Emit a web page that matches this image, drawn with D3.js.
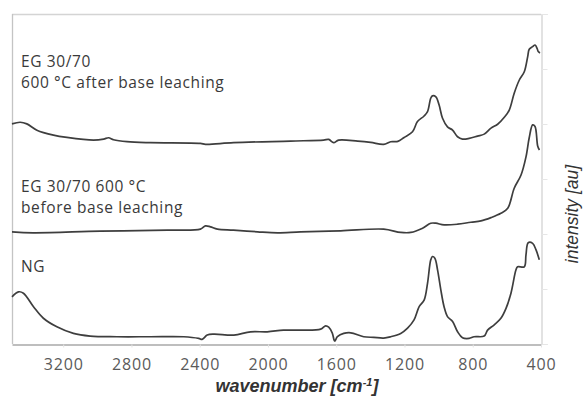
<!DOCTYPE html>
<html>
<head>
<meta charset="utf-8">
<script src="https://cdn.jsdelivr.net/npm/d3@7"></script>
<style>
  html, body { margin: 0; padding: 0; background: #fff; }
  svg { display: block; }
</style>
</head>
<body>
<svg id="chart" width="587" height="398"></svg>
<script>
// FTIR spectra, offset vertically (arbitrary units)
const xTicks = [3200, 2800, 2400, 2000, 1600, 1200, 800, 400];

// EG 30/70, 600 °C, after base leaching
const egAfterWn = [3500, 3452, 3413, 3354, 3257, 3178, 3022, 2963, 2934, 2905, 2826, 2689, 2396, 2366, 2202, 1868, 1674, 1644, 1615, 1586, 1474, 1398, 1322, 1281, 1239, 1202, 1153, 1124, 1085, 1065, 1046, 1036, 1016, 997, 977, 948, 918, 889, 860, 821, 772, 733, 693, 654, 615, 586, 557, 527, 498, 478, 469, 449, 435, 423, 416, 406];
const egAfterI = [6.67, 6.72, 6.67, 6.48, 6.33, 6.26, 6.18, 6.21, 6.25, 6.19, 6.13, 6.10, 6.08, 6.05, 6.10, 6.15, 6.18, 6.20, 6.10, 6.18, 6.15, 6.11, 6.05, 6.13, 6.14, 6.26, 6.43, 6.74, 6.91, 7.04, 7.45, 7.52, 7.49, 7.24, 6.84, 6.58, 6.48, 6.28, 6.21, 6.23, 6.30, 6.36, 6.54, 6.66, 6.87, 7.09, 7.60, 8.00, 8.25, 8.71, 8.93, 9.01, 9.06, 8.96, 8.86, 8.82];

// EG 30/70, 600 °C, before base leaching
const egBeforeWn = [3500, 3376, 2983, 2590, 2396, 2366, 2337, 2296, 2202, 2061, 1944, 1809, 1574, 1322, 1222, 1163, 1094, 1046, 1016, 968, 889, 811, 752, 693, 635, 595, 557, 517, 488, 469, 449, 435, 419, 409];
const egBeforeI = [3.40, 3.37, 3.42, 3.45, 3.48, 3.58, 3.55, 3.48, 3.45, 3.40, 3.37, 3.40, 3.43, 3.48, 3.38, 3.38, 3.51, 3.66, 3.66, 3.61, 3.63, 3.69, 3.73, 3.83, 3.96, 4.11, 4.72, 5.12, 5.67, 6.25, 6.64, 6.59, 5.99, 5.88];

// natural graphite
const ngWn = [3500, 3462, 3433, 3374, 3316, 3237, 3140, 3042, 2885, 2689, 2494, 2406, 2386, 2356, 2318, 2200, 2102, 2004, 1909, 1809, 1691, 1662, 1644, 1623, 1609, 1593, 1556, 1515, 1439, 1380, 1322, 1281, 1222, 1182, 1144, 1114, 1085, 1065, 1046, 1036, 1022, 1006, 987, 968, 948, 918, 889, 860, 821, 792, 733, 713, 674, 635, 605, 576, 547, 537, 498, 488, 475, 449, 429, 410];
const ngI = [1.43, 1.58, 1.54, 1.13, 0.78, 0.52, 0.32, 0.24, 0.22, 0.22, 0.22, 0.17, 0.14, 0.27, 0.30, 0.27, 0.37, 0.37, 0.42, 0.42, 0.45, 0.55, 0.51, 0.33, 0.09, 0.22, 0.32, 0.34, 0.22, 0.20, 0.18, 0.22, 0.32, 0.48, 0.73, 1.13, 1.33, 1.84, 2.55, 2.65, 2.60, 2.24, 1.64, 1.13, 0.83, 0.68, 0.37, 0.19, 0.17, 0.22, 0.24, 0.42, 0.58, 0.78, 1.08, 1.54, 2.24, 2.34, 2.34, 2.70, 3.07, 3.05, 2.85, 2.55];

const seriesLabels = [
  ["EG 30/70", "600 °C after base leaching"],
  ["EG 30/70 600 °C", "before base leaching"],
  ["NG"]
];

const svg = d3.select("#chart");
const margin = { left: 12, right: 46, top: 14, bottom: 54 };
const W = 587, H = 398;
const x0 = margin.left, x1 = W - margin.right, y0 = margin.top, y1 = H - margin.bottom;

const x = d3.scaleLinear().domain([3500, 400]).range([x0, x1]);
const y = d3.scaleLinear().domain([0, 10]).range([y1, y0]);

// frame
svg.append("line").attr("x1", x0).attr("x2", x1).attr("y1", y0 + 0.5).attr("y2", y0 + 0.5)
  .attr("stroke", "#d4d4d4").attr("stroke-width", 1.5);
svg.append("line").attr("x1", x0 + 0.5).attr("x2", x0 + 0.5).attr("y1", y0).attr("y2", y1)
  .attr("stroke", "#c4c4c4").attr("stroke-width", 1.3);

// right intensity axis with faint outward ticks
const yAxis = d3.axisRight(y).tickValues(d3.range(0, 10.001, 10 / 6)).tickSize(6).tickFormat("");
const ya = svg.append("g").attr("transform", `translate(${x1 + 0.5},0)`).call(yAxis);
ya.select(".domain").attr("stroke", "#cfcfcf").attr("stroke-width", 1.2);
ya.selectAll(".tick line").attr("stroke", "#e6e6e6");

// bottom wavenumber axis
const xAxis = d3.axisBottom(x).tickValues(xTicks).tickSize(3).tickSizeOuter(0).tickFormat(d3.format("d"));
const xa = svg.append("g").attr("transform", `translate(0,${y1 + 0.5})`).call(xAxis);
xa.select(".domain").attr("stroke", "#a8a8a8").attr("stroke-width", 1.3);
xa.selectAll(".tick line").attr("stroke", "#e4e4e4");
xa.selectAll(".tick text")
  .attr("dy", 0).attr("y", 25.5)
  .style("font-family", "'Open Sans', sans-serif").style("font-size", "16px")
  .style("letter-spacing", "0.8px")
  .attr("fill", "#5a5a5a");

// spectra
const line = d3.line().x(d => x(d[0])).y(d => y(d[1])).curve(d3.curveCatmullRom.alpha(0.5));
const series = [
  d3.zip(egAfterWn, egAfterI),
  d3.zip(egBeforeWn, egBeforeI),
  d3.zip(ngWn, ngI)
];
svg.append("g").selectAll("path").data(series).join("path")
  .attr("d", line)
  .attr("fill", "none")
  .attr("stroke", "#3e3e3e")
  .attr("stroke-width", 1.7)
  .attr("stroke-linejoin", "round");

// series labels
const labelPos = [[21, 67], [21, 192], [21, 272]];
seriesLabels.forEach((lines, i) => {
  const t = svg.append("text")
    .attr("x", labelPos[i][0]).attr("y", labelPos[i][1])
    .style("font-family", "'Open Sans', sans-serif").style("font-size", "15.5px")
    .style("letter-spacing", "0.6px")
    .attr("fill", "#3a3a3a");
  lines.forEach((s, j) => {
    t.append("tspan").attr("x", labelPos[i][0]).attr("dy", j === 0 ? 0 : 20.5).text(s);
  });
});

// axis titles
const xt = svg.append("text")
  .attr("x", 297).attr("y", 392).attr("text-anchor", "middle")
  .style("font-family", "'Liberation Sans', Arial, sans-serif").style("font-size", "18px")
  .style("font-weight", "bold").style("font-style", "italic")
  .attr("fill", "#333");
xt.append("tspan").text("wavenumber [cm");
xt.append("tspan").attr("dy", -6).style("font-size", "11px").text("-1");
xt.append("tspan").attr("dy", 6).text("]");

svg.append("text")
  .attr("transform", "translate(578,214) rotate(-90)")
  .attr("text-anchor", "middle")
  .style("font-family", "'Liberation Sans', Arial, sans-serif").style("font-size", "17.5px")
  .style("font-style", "italic")
  .attr("fill", "#333")
  .text("intensity [au]");
</script>
</body>
</html>
